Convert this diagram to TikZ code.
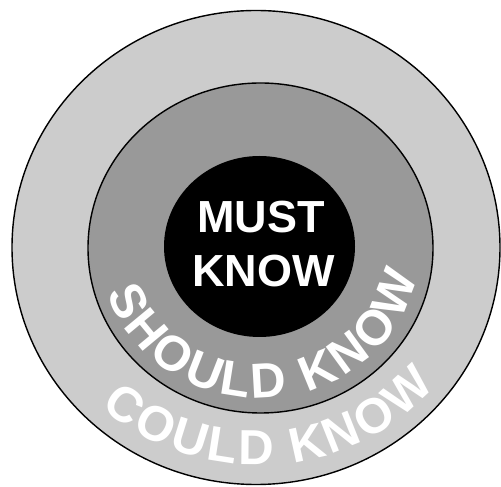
\documentclass[tikz,border=0pt]{standalone}
\usepackage{fontspec}
\setmainfont{Liberation Sans}
\usetikzlibrary{decorations.text}
\definecolor{couldgray}{RGB}{204,204,204}
\definecolor{shouldgray}{RGB}{153,153,153}
\newcommand{\ringfont}{\fontsize{28}{28}\selectfont\bfseries}

\begin{document}
\begin{tikzpicture}[x=0.02cm,y=0.02cm,
  ringtext/.style={decorate,decoration={text along path,text align=fit to path,text color=white,text={|\ringfont|#1}}}]
  \useasboundingbox (0,0) rectangle (501,487);
  % rings, outside in
  \draw[thick,fill=couldgray](256,239.5) ellipse[x radius=244,y radius=237];
  \draw[thick,fill=shouldgray](260.5,239) ellipse[x radius=172.5,y radius=165];
  \fill[black](259.5,240.5) ellipse[x radius=95.5,y radius=90.5];
  % centre
  \node[anchor=base,text=white,font=\fontsize{25.6}{25.6}\selectfont\bfseries] (must) at (261,254) {MUST};
  \node[anchor=base,text=white,font=\fontsize{25.6}{25.6}\selectfont\bfseries] (know) at (263.5,200) {KNOW};
  % curved labels
  \path[ringtext={SHOULD KNOW}] (260,239) ++(197.5:160 and 150) arc[start angle=197.5,end angle=348.8,x radius=160,y radius=150];
  \path[ringtext={COULD KNOW}] (258,239) ++(227:230 and 217) arc[start angle=227,end angle=320.4,x radius=230,y radius=217];
\end{tikzpicture}
\end{document}
